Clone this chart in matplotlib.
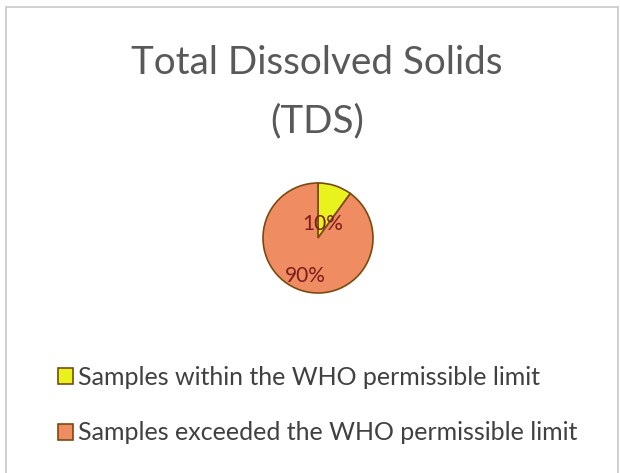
import numpy as np
import matplotlib.pyplot as plt
from matplotlib.patches import Rectangle

title_lines = ['Total Dissolved Solids', '(TDS)']
categories = ['Samples within the WHO permissible limit',
              'Samples exceeded the WHO permissible limit']
shares = [10, 90]
colors = ['#E8F21C', '#F08C62']
label_dist = [0.26, 0.72]

W, H = 620, 473
fig = plt.figure(figsize=(W / 100, H / 100), dpi=100)
ax = fig.add_axes([0, 0, 1, 1])
ax.set_aspect('equal')
ax.axis('off')

# chart frame, open at the bottom
ax.add_patch(Rectangle((6, -20), 612, H - 7 + 20, fill=False,
                       edgecolor='#C8C8C8', lw=1.2))

for i, line in enumerate(title_lines):
    fig.text(317 / W, 1 - (63 + 58 * i) / H, line, ha='center', va='center',
             fontsize=27.8, color='#595959', family='Lato')

cx, cy, r = 318, H - 238, 55
wedges, texts, pcts = ax.pie(
    shares, colors=colors, startangle=90, counterclock=False,
    center=(cx, cy), radius=r, autopct='%d%%',
    wedgeprops=dict(edgecolor='#7A4A10', linewidth=1.2),
    textprops=dict(color='#7A1E1E', fontsize=15, family='Lato'))

# move the percent labels along each wedge's mid angle
for w, t, d in zip(wedges, pcts, label_dist):
    a = np.deg2rad((w.theta1 + w.theta2) / 2)
    t.set_position((cx + d * r * np.cos(a), cy + d * r * np.sin(a)))

ax.set_xlim(0, W)
ax.set_ylim(0, H)

leg = ax.legend(wedges, categories, loc='upper left',
                bbox_to_anchor=(58 / W, 1 - 366 / H), frameon=False,
                handlelength=0.6, handleheight=0.6, handletextpad=0.2,
                labelspacing=1.3, borderpad=0, borderaxespad=0,
                prop=dict(size=18, family='Lato'))
for t in leg.get_texts():
    t.set_color('#404040')

fig.savefig('out.png', dpi=100)
